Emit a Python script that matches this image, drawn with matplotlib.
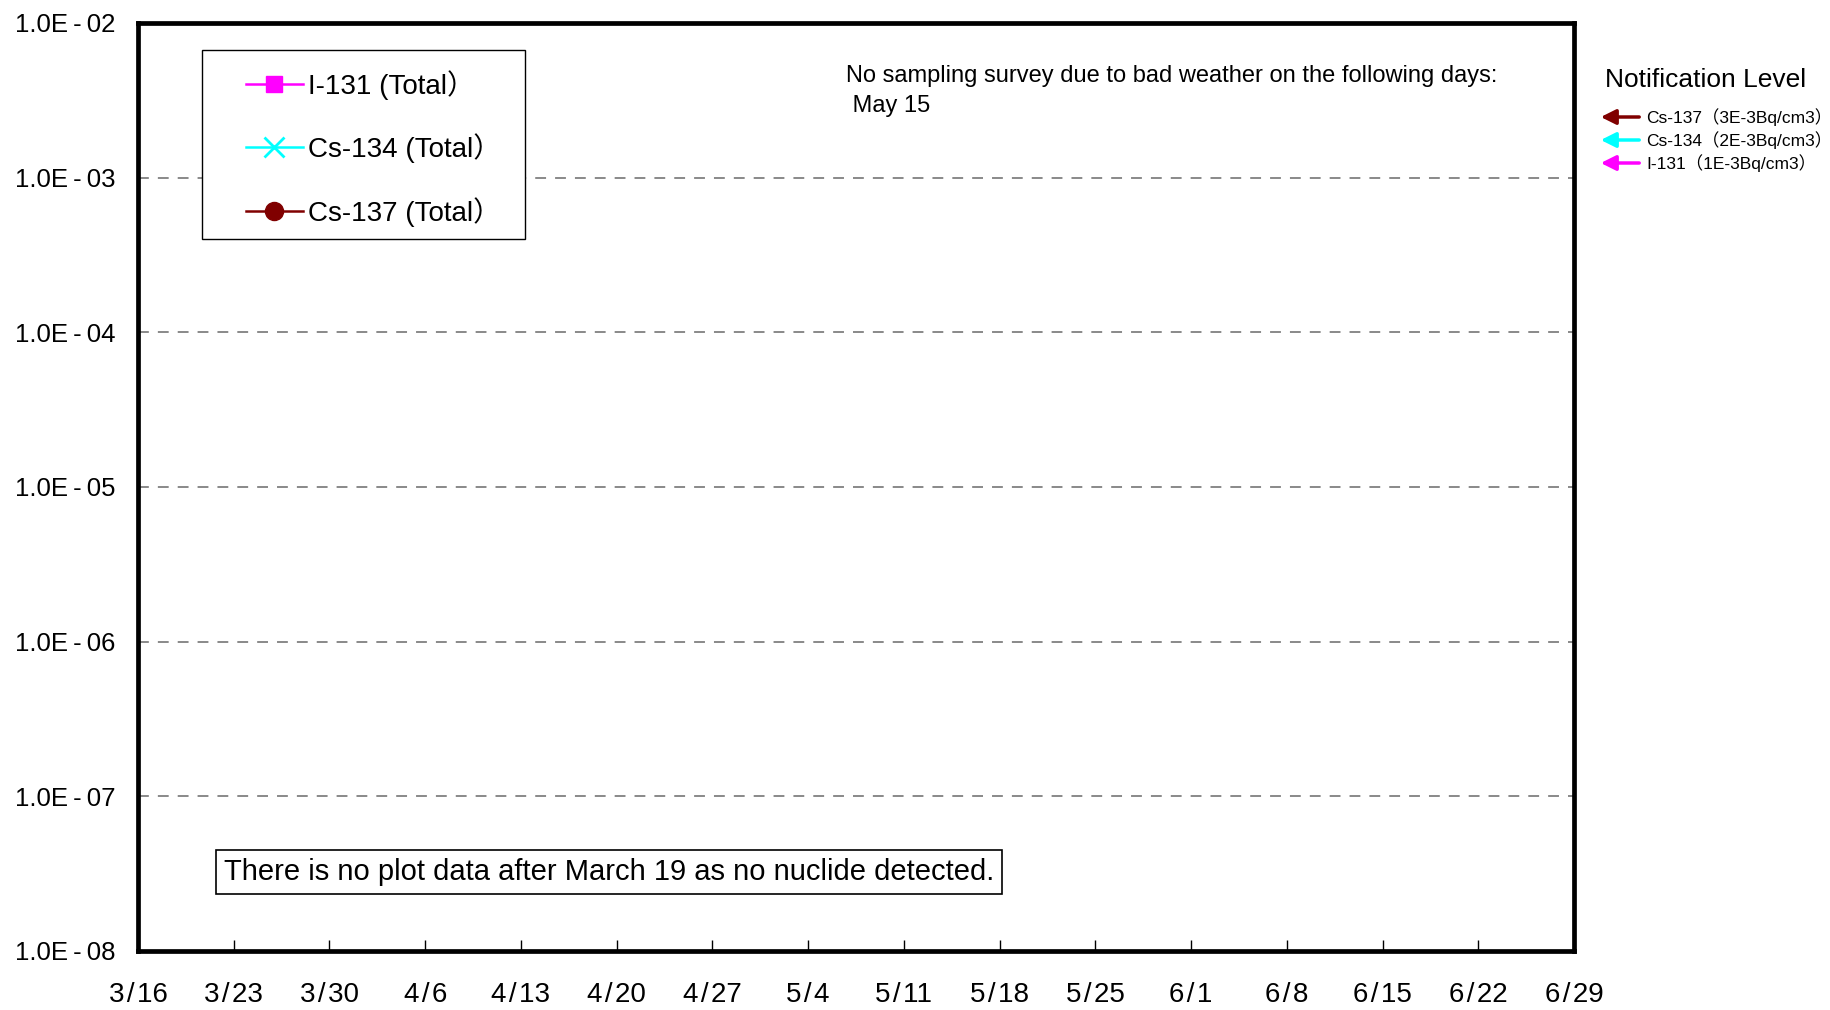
import numpy as np
import pandas as pd
import matplotlib
matplotlib.use("Agg")
import matplotlib.pyplot as plt
from matplotlib.patches import Rectangle, FancyArrowPatch
from matplotlib.ticker import NullLocator

plt.rcParams['font.family'] = ['Liberation Sans', 'Noto Sans CJK JP', 'DejaVu Sans']

# sampling dates / values (nothing detected after 3/19, so no points)
dates_i131 = []
vals_i131 = []
dates_cs134 = []
vals_cs134 = []
dates_cs137 = []
vals_cs137 = []

tick_dates = pd.date_range("2011-03-16", "2011-06-29", freq="7D")
tick_labels = ["3/16", "3/23", "3/30", "4/6", "4/13", "4/20", "4/27", "5/4",
               "5/11", "5/18", "5/25", "6/1", "6/8", "6/15", "6/22", "6/29"]
y_ticks = [1e-8, 1e-7, 1e-6, 1e-5, 1e-4, 1e-3, 1e-2]
y_labels = ["1.0E-08", "1.0E-07", "1.0E-06", "1.0E-05", "1.0E-04",
            "1.0E-03", "1.0E-02"]

notif_names = ["Cs-137", "Cs-134", "I-131"]
notif_levels = ["3E-3", "2E-3", "1E-3"]
notif_colors = ["#800000", "#00FFFF", "#FF00FF"]

fig = plt.figure(figsize=(18.3, 10.1), dpi=100)
ax = fig.add_axes([138/1830, 1 - 951/1010, (1574-138)/1830, (951-23)/1010])

ax.plot(dates_i131, vals_i131, color="#FF00FF", marker="s", markersize=12,
        lw=1.8, label="I-131 (Total\uff09")
ax.plot(dates_cs134, vals_cs134, color="#00FFFF", marker="x", markersize=15,
        mew=2, lw=1.8, label="Cs-134 (Total\uff09")
ax.plot(dates_cs137, vals_cs137, color="#800000", marker="o", markersize=13,
        lw=1.8, label="Cs-137 (Total\uff09")

ax.set_yscale("log")
ax.set_ylim(1e-8, 1e-2)
ax.set_xlim(tick_dates[0], tick_dates[-1])
ax.set_yticks(y_ticks)
ax.yaxis.set_minor_locator(NullLocator())
ax.set_yticklabels([s.replace("-", "\u2009-\u2009") for s in y_labels], fontsize=18.5)
ax.set_xticks(tick_dates)
ax.set_xticklabels([s.replace("/", "\u200a/\u200a") for s in tick_labels], fontsize=20)
ax.tick_params(axis="x", direction="in", length=8, width=1, pad=22)
ax.tick_params(axis="y", length=0, pad=16)

for y in y_ticks[1:-1]:
    ax.axhline(y, color="#808080", lw=1.3, ls=(0, (6, 5)), zorder=0)

for s in ax.spines.values():
    s.set_linewidth(3.4)

# legend frame + entries
ax.add_patch(Rectangle((0.0446, 0.767), 0.2249, 0.204, transform=ax.transAxes,
                       fc="white", ec="black", lw=1.0, zorder=4))
leg = ax.legend(loc="center left", bbox_to_anchor=(0.0752, 0.865),
                borderaxespad=0, borderpad=0, fontsize=20, frameon=False,
                handlelength=2.05, handletextpad=0.2, labelspacing=1.22)
leg.set_zorder(5)

fig.text(846/1830, 1 - 65/1010,
         "No sampling survey due to bad weather on the following days:\n May 15",
         fontsize=17, va="top", ha="left", linespacing=1.45)

fig.text(609/1830, 1 - 872/1010,
         "There is no plot data after March 19 as no nuclide detected.",
         fontsize=21, ha="center", va="center",
         bbox=dict(boxstyle="square,pad=0.27", fc="white", ec="black", lw=1.2))

# notification levels on the right
fig.text(1605/1830, 1 - 80/1010, "Notification Level", fontsize=19,
         ha="left", va="center")
for i, (name, lev, c) in enumerate(zip(notif_names, notif_levels, notif_colors)):
    y = 1 - (117 + 23*i)/1010
    fig.patches.append(FancyArrowPatch(
        (1642/1830, y), (1598/1830, y), transform=fig.transFigure,
        arrowstyle="-|>,head_length=9,head_width=4.5", mutation_scale=1,
        color=c, lw=2.5))
    fig.text(1646/1830, y, f"{name}\uff08{lev}Bq/cm3\uff09", fontsize=12.5,
             ha="left", va="center")

fig.savefig("out.png", dpi=100)
